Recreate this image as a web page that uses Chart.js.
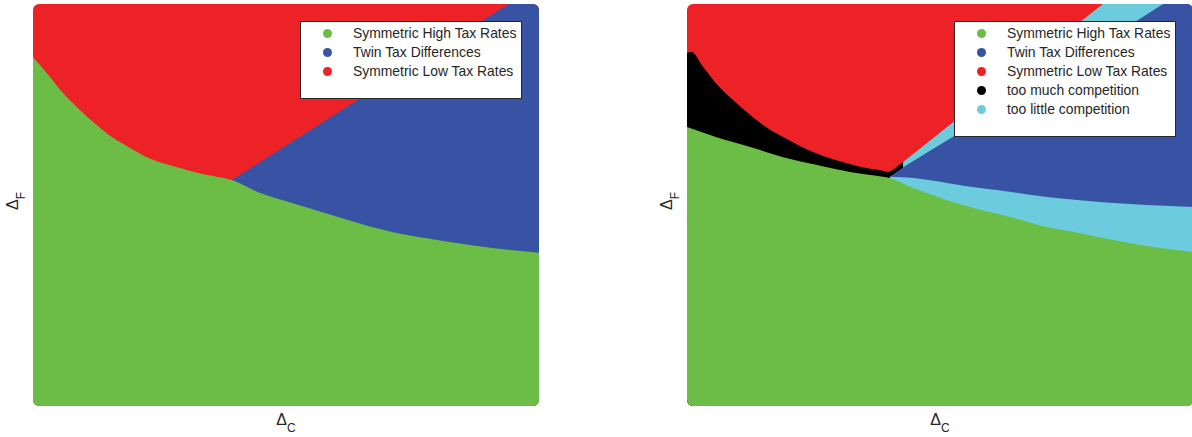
<!DOCTYPE html>
<html>
<head>
<meta charset="utf-8">
<script src="https://cdn.jsdelivr.net/npm/chart.js@4.4.1/dist/chart.umd.min.js"></script>
<style>
  html, body { margin: 0; padding: 0; background: #fff; }
  body { width: 1192px; height: 437px; position: relative; overflow: hidden;
         font-family: "Liberation Sans", Arial, Helvetica, sans-serif; color: #262626; }
  .panel { position: absolute; top: 4px; width: 506px; height: 402px; }
  .panel canvas { position: absolute; left: 0; top: 0; }
  .legend { position: absolute; right: 17px; top: 17px; width: 222px; background: #fff;
            border: 1px solid #262626; box-sizing: border-box; }
  .legend .row { position: absolute; left: 0; height: 19px; line-height: 19px; font-size: 13.9px; white-space: nowrap; }
  .legend .dot { position: absolute; left: 22px; top: 5px; width: 9px; height: 9px; border-radius: 50%; }
  .legend .txt { position: absolute; left: 52px; top: 0; }
  .xlab { position: absolute; left: 0; top: 406px; width: 506px; height: 20px; line-height: 20px;
          text-align: center; font-size: 16px; }
  .ylab { position: absolute; left: -50px; top: 187px; width: 60px; height: 20px; line-height: 20px;
          text-align: center; font-size: 16px; transform: rotate(-90deg); }
  sub { font-size: 12px; line-height: 0; vertical-align: -7px; }
</style>
</head>
<body>
<div class="panel" id="panelA" style="left:33px">
  <canvas id="chartA" width="506" height="402"></canvas>
  <div class="legend" id="legendA"></div>
  <div class="xlab">&Delta;<sub>C</sub></div>
  <div class="ylab">&Delta;<sub>F</sub></div>
</div>
<div class="panel" id="panelB" style="left:687px">
  <canvas id="chartB" width="506" height="402"></canvas>
  <div class="legend" id="legendB"></div>
  <div class="xlab">&Delta;<sub>C</sub></div>
  <div class="ylab">&Delta;<sub>F</sub></div>
</div>
<script>
// regimes and their colours
const regimeLabels = ['Symmetric High Tax Rates', 'Twin Tax Differences', 'Symmetric Low Tax Rates',
                      'too much competition', 'too little competition'];
const regimeColors = ['#6cbd45', '#3953a4', '#ed2227', '#000000', '#6ccbdd'];

// upper edges of each region in (Δ_C, Δ_F), every region is filled down to Δ_F = 0
// and the regions are stacked on top of each other

// left panel
const highTaxEdgeA = [[0, 0.868], [0.034, 0.818], [0.059, 0.779], [0.093, 0.736], [0.126, 0.699],
  [0.158, 0.667], [0.192, 0.642], [0.225, 0.619], [0.257, 0.604], [0.291, 0.592], [0.324, 0.580],
  [0.356, 0.572], [0.393, 0.562], [0.445, 0.532], [0.512, 0.505], [0.577, 0.480], [0.642, 0.455],
  [0.709, 0.433], [0.775, 0.418], [0.840, 0.405], [0.907, 0.393], [1, 0.381]];
const twinEdgeA = [[0.393, 0.562], [0.94, 1], [1, 1]];
const lowTaxEdgeA = [[0, 1], [1, 1]];

// right panel
const highTaxEdgeB = [[0, 0.694], [0.057, 0.669], [0.125, 0.644], [0.190, 0.619], [0.255, 0.600],
  [0.322, 0.582], [0.387, 0.570], [0.401, 0.567], [0.447, 0.542], [0.514, 0.512], [0.579, 0.488],
  [0.644, 0.468], [0.711, 0.445], [0.777, 0.430], [0.842, 0.413], [0.909, 0.398], [1, 0.383]];
const littleLowerEdgeB = [[0.401, 0.570], [0.447, 0.567], [0.514, 0.555], [0.579, 0.542], [0.644, 0.532],
  [0.711, 0.520], [0.777, 0.512], [0.842, 0.505], [0.909, 0.500], [1, 0.495]];
const twinEdgeB = [[0.401, 0.570], [0.435, 0.600], [0.579, 0.711], [0.941, 1], [1, 1]];
const littleUpperEdgeB = [[0.427, 0.607], [0.619, 0.799], [0.822, 1], [0.941, 1]];
const muchEdgeB = [[0, 0.878], [0.008, 0.881], [0.032, 0.843], [0.057, 0.803], [0.091, 0.761],
  [0.125, 0.724], [0.156, 0.694], [0.190, 0.669], [0.223, 0.647], [0.255, 0.629], [0.289, 0.614],
  [0.322, 0.602], [0.354, 0.592], [0.387, 0.585], [0.395, 0.582], [0.427, 0.607]];
const lowTaxEdgeB = [[0, 1], [1, 1]];

function region(edge, k, smooth) {
  return {
    label: regimeLabels[k],
    data: edge.map(p => ({ x: p[0], y: p[1] })),
    backgroundColor: regimeColors[k],
    borderWidth: 0,
    pointRadius: 0,
    tension: smooth ? 0.4 : 0,
    cubicInterpolationMode: smooth ? 'monotone' : 'default',
    fill: 'start'
  };
}

// plot area has softly rounded corners
const roundClip = {
  id: 'roundClip',
  beforeDatasetsDraw(chart) {
    const a = chart.chartArea, ctx = chart.ctx;
    ctx.save();
    ctx.beginPath();
    ctx.roundRect(a.left, a.top, a.right - a.left, a.bottom - a.top, 6);
    ctx.clip();
  },
  afterDatasetsDraw(chart) {
    chart.ctx.restore();
  }
};

function makeChart(id, datasets) {
  return new Chart(document.getElementById(id).getContext('2d'), {
    type: 'line',
    data: { datasets },
    options: {
      responsive: false,
      animation: false,
      events: [],
      layout: { padding: 0 },
      scales: {
        x: { type: 'linear', min: 0, max: 1, display: false },
        y: { type: 'linear', min: 0, max: 1, display: false }
      },
      plugins: { legend: { display: false }, tooltip: { enabled: false } }
    },
    plugins: [roundClip]
  });
}

function buildLegend(id, count) {
  const box = document.getElementById(id);
  box.style.height = (21 + 19 * count) + 'px';
  for (let i = 0; i < count; i++) {
    const row = document.createElement('div');
    row.className = 'row';
    row.style.top = (2 + 19 * i) + 'px';
    row.innerHTML = '<span class="dot" style="background:' + regimeColors[i] + '"></span>' +
                    '<span class="txt">' + regimeLabels[i] + '</span>';
    box.appendChild(row);
  }
}

// first dataset is drawn last, so list from top layer to bottom layer
makeChart('chartA', [
  region(highTaxEdgeA, 0, true),
  region(twinEdgeA, 1, false),
  region(lowTaxEdgeA, 2, false)
]);

makeChart('chartB', [
  region(highTaxEdgeB, 0, true),
  region(littleLowerEdgeB, 4, true),
  region(twinEdgeB, 1, false),
  region(littleUpperEdgeB, 4, false),
  region(muchEdgeB, 3, true),
  region(lowTaxEdgeB, 2, false)
]);

buildLegend('legendA', 3);
buildLegend('legendB', 5);
</script>
</body>
</html>
